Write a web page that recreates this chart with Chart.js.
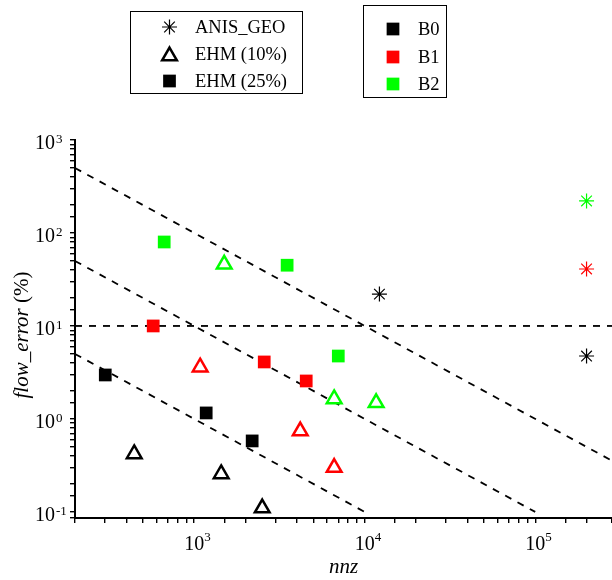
<!DOCTYPE html>
<html>
<head>
<meta charset="utf-8">
<script src="https://cdn.jsdelivr.net/npm/chart.js@4/dist/chart.umd.min.js"></script>
<style>
  body { margin: 0; background: #fff; }
  canvas { display: block; }
</style>
</head>
<body>
<canvas id="flow_chart" width="612" height="580"></canvas>
<script>
// ANIS_GEO (asterisks)
const anisB0Nnz = [12200, 200000];
const anisB0Err = [22, 4.75];
const anisB1Nnz = [200000];
const anisB1Err = [41];
const anisB2Nnz = [200000];
const anisB2Err = [221];

// EHM (10%) (open triangles)
const ehm10B0Nnz = [445, 1440, 2506];
const ehm10B0Err = [0.42, 0.256, 0.11];
const ehm10B1Nnz = [1084, 4188, 6620];
const ehm10B1Err = [3.6, 0.74, 0.30];
const ehm10B2Nnz = [1500, 6620, 11670];
const ehm10B2Err = [46, 1.64, 1.49];

// EHM (25%) (filled squares)
const ehm25B0Nnz = [301, 1176, 2188];
const ehm25B0Err = [2.97, 1.16, 0.58];
const ehm25B1Nnz = [575, 2575, 4540];
const ehm25B1Err = [10.0, 4.1, 2.56];
const ehm25B2Nnz = [667, 3508, 7000];
const ehm25B2Err = [80, 45, 4.75];

// dashed guide lines
const guide1Nnz = [200, 282000];
const guide1Err = [500, 0.355];
const guide2Nnz = [200, 100000];
const guide2Err = [50, 0.1];
const guide3Nnz = [200, 10000];
const guide3Err = [5, 0.1];
const guide4Nnz = [200, 282000];
const guide4Err = [10, 10];

const methodLabels = ['ANIS_GEO', 'EHM (10%)', 'EHM (25%)'];
const blockLabels = ['B0', 'B1', 'B2'];
const blockColors = ['#000000', '#ff0000', '#00ff00'];

const SERIF = '"Liberation Serif", "Times New Roman", serif';

function pts(xs, ys) {
  return xs.map((x, i) => ({x: x, y: ys[i]}));
}

/////////////////////////////////////////////////////
const markerStyle = {
  star: {pointStyle: 'star', pointRadius: 7.5, borderWidth: 1.2},
  tri: {pointStyle: 'triangle', pointRadius: 8.5, borderWidth: 2.5},
  sq: {pointStyle: 'rect', pointRadius: 9, borderWidth: 0}
};

function markerSet(xs, ys, kind, color, label) {
  const m = markerStyle[kind];
  return {
    label: label,
    data: pts(xs, ys),
    pointStyle: m.pointStyle,
    pointRadius: m.pointRadius,
    borderWidth: m.borderWidth,
    borderColor: color,
    backgroundColor: kind === 'tri' ? '#ffffff' : color,
    showLine: false
  };
}

function guideSet(xs, ys) {
  return {
    data: pts(xs, ys),
    showLine: true,
    pointRadius: 0,
    borderColor: '#000',
    borderWidth: 1.8,
    borderDash: [7, 7],
    fill: false
  };
}

/////////////////////////////////////////////////////
// "10" + exponent tick labels, axis titles and the two boxed legends
const extras = {
  id: 'extras',
  afterDraw(chart) {
    const ctx = chart.ctx;
    const xs = chart.scales.x, ys = chart.scales.y;
    const isPow = v => Math.abs(Math.log10(v) - Math.round(Math.log10(v))) < 1e-6;
    ctx.save();
    ctx.fillStyle = '#000';
    ctx.textBaseline = 'alphabetic';

    xs.ticks.forEach(t => {
      if (!isPow(t.value)) return;
      const px = xs.getPixelForValue(t.value);
      const e = Math.round(Math.log10(t.value));
      ctx.font = '20px ' + SERIF;
      ctx.textAlign = 'center';
      ctx.fillText('10', px, xs.top + 32);
      ctx.font = '13px ' + SERIF;
      ctx.textAlign = 'left';
      ctx.fillText(String(e), px + 10, xs.top + 23);
    });

    ys.ticks.forEach(t => {
      if (!isPow(t.value)) return;
      const py = ys.getPixelForValue(t.value);
      const e = Math.round(Math.log10(t.value));
      ctx.font = '20px ' + SERIF;
      ctx.textAlign = 'right';
      ctx.fillText('10', 55, py + 9);
      ctx.font = '13px ' + SERIF;
      ctx.textAlign = 'left';
      ctx.fillText(e < 0 ? '-' + Math.abs(e) : String(e), 56, py + 3);
    });

    // x title
    const ca = chart.chartArea;
    ctx.font = 'italic 21px ' + SERIF;
    ctx.textAlign = 'center';
    ctx.fillText('nnz', (ca.left + ca.right) / 2, 573);

    // y title
    ctx.save();
    ctx.translate(28, (ca.top + ca.bottom) / 2 + 6);
    ctx.rotate(-Math.PI / 2);
    ctx.font = 'italic 21px ' + SERIF;
    const w1 = ctx.measureText('flow_error').width;
    ctx.font = '21px ' + SERIF;
    const w2 = ctx.measureText(' (%)').width;
    let x0 = -(w1 + w2) / 2;
    ctx.textAlign = 'left';
    ctx.font = 'italic 21px ' + SERIF;
    ctx.fillText('flow_error', x0, 0);
    ctx.font = '21px ' + SERIF;
    ctx.fillText(' (%)', x0 + w1, 0);
    ctx.restore();

    // legend boxes
    ctx.strokeStyle = '#000';
    ctx.lineWidth = 1;
    ctx.strokeRect(130.5, 11.5, 172, 82);
    ctx.strokeRect(363.5, 5.5, 83, 92);

    const kinds = ['star', 'tri', 'sq'];
    const rows1 = [27, 54, 81];
    ctx.font = '18.5px ' + SERIF;
    methodLabels.forEach((lab, i) => {
      const m = markerStyle[kinds[i]];
      ctx.fillStyle = kinds[i] === 'tri' ? '#fff' : '#000';
      ctx.strokeStyle = '#000';
      ctx.lineWidth = m.borderWidth;
      Chart.helpers.drawPoint(ctx, {pointStyle: m.pointStyle, radius: m.pointRadius, rotation: 0, borderWidth: m.borderWidth}, 169.5, rows1[i] + (kinds[i] === 'tri' ? 2 : 0));
      ctx.fillStyle = '#000';
      ctx.textAlign = 'left';
      ctx.textBaseline = 'middle';
      ctx.fillText(lab, 195, rows1[i] + 1);
    });

    const rows2 = [29, 57, 84];
    blockLabels.forEach((lab, i) => {
      ctx.fillStyle = blockColors[i];
      Chart.helpers.drawPoint(ctx, {pointStyle: 'rect', radius: 9, rotation: 0, borderWidth: 0}, 393, rows2[i]);
      ctx.fillStyle = '#000';
      ctx.textAlign = 'left';
      ctx.textBaseline = 'middle';
      ctx.fillText(lab, 418, rows2[i] + 1);
    });
    ctx.restore();
  }
};

/////////////////////////////////////////////////////
const axisOpts = {
  type: 'logarithmic',
  ticks: {display: false},
  grid: {drawOnChartArea: false, drawTicks: true, tickLength: 5, color: '#000', lineWidth: 1.4},
  border: {display: true, color: '#000', width: 2}
};

const scales = {
  x: Object.assign({}, axisOpts, {
    position: 'bottom', min: 200, max: 282000,
    afterFit: s => { s.height = 62; }
  }),
  y: Object.assign({}, axisOpts, {
    position: 'left', min: 0.086, max: 1000,
    afterFit: s => { s.width = 75; }
  })
};

const datasets = [
  markerSet(anisB0Nnz, anisB0Err, 'star', blockColors[0], 'ANIS_GEO B0'),
  markerSet(anisB1Nnz, anisB1Err, 'star', blockColors[1], 'ANIS_GEO B1'),
  markerSet(anisB2Nnz, anisB2Err, 'star', blockColors[2], 'ANIS_GEO B2'),
  markerSet(ehm10B0Nnz, ehm10B0Err, 'tri', blockColors[0], 'EHM (10%) B0'),
  markerSet(ehm10B1Nnz, ehm10B1Err, 'tri', blockColors[1], 'EHM (10%) B1'),
  markerSet(ehm10B2Nnz, ehm10B2Err, 'tri', blockColors[2], 'EHM (10%) B2'),
  markerSet(ehm25B0Nnz, ehm25B0Err, 'sq', blockColors[0], 'EHM (25%) B0'),
  markerSet(ehm25B1Nnz, ehm25B1Err, 'sq', blockColors[1], 'EHM (25%) B1'),
  markerSet(ehm25B2Nnz, ehm25B2Err, 'sq', blockColors[2], 'EHM (25%) B2'),
  guideSet(guide1Nnz, guide1Err),
  guideSet(guide2Nnz, guide2Err),
  guideSet(guide3Nnz, guide3Err),
  guideSet(guide4Nnz, guide4Err)
];

const ctx = document.getElementById('flow_chart').getContext('2d');
var myChart = new Chart(ctx, {
  type: 'scatter',
  data: {datasets: datasets},
  options: {
    responsive: false,
    animation: false,
    events: [],
    layout: {autoPadding: false, padding: {top: 140, right: 0, left: 0, bottom: 0}},
    scales: scales,
    plugins: {
      legend: {display: false},
      title: {display: false},
      tooltip: {enabled: false}
    }
  },
  plugins: [extras]
});
</script>
</body>
</html>
